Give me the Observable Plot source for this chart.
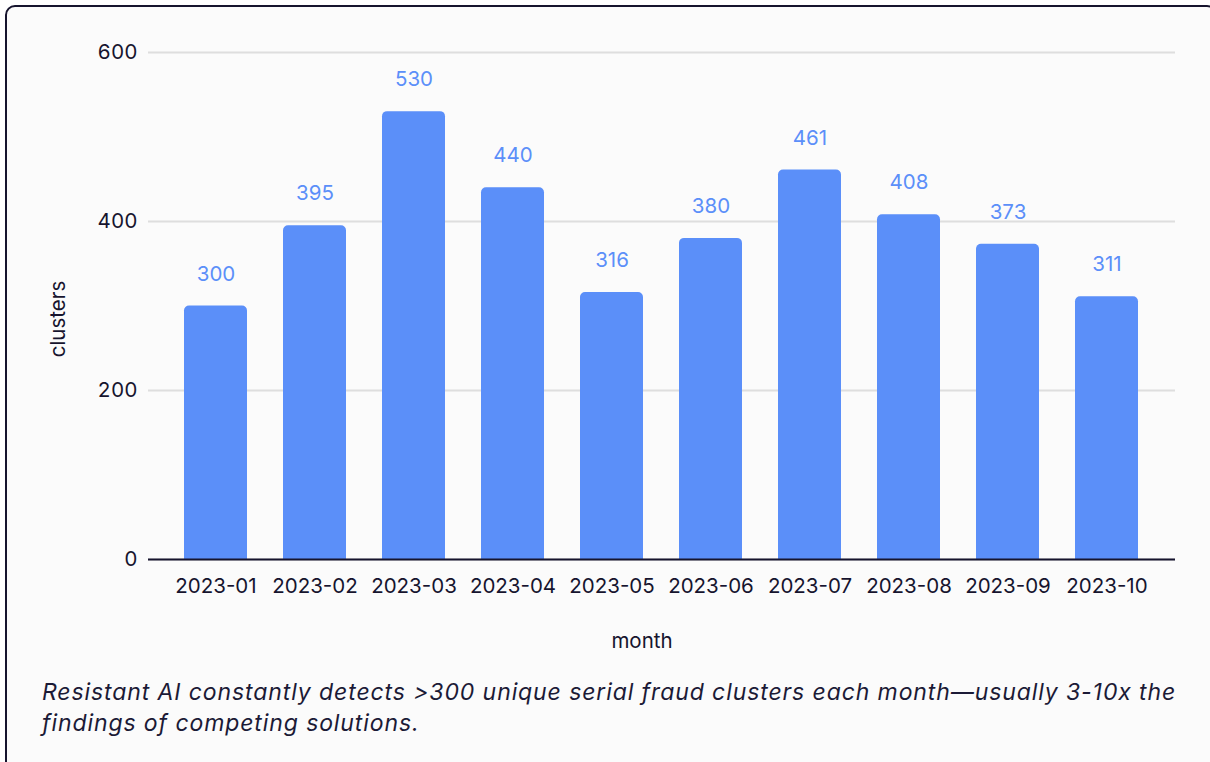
<!DOCTYPE html>
<html>
<head>
<meta charset="utf-8">
<script src="https://cdn.jsdelivr.net/npm/d3@7"></script>
<script src="https://cdn.jsdelivr.net/npm/@observablehq/plot@0.6"></script>
<style>
  html, body { margin: 0; padding: 0; background: #ffffff; }
  body { width: 1210px; height: 762px; overflow: hidden; position: relative; font-family: Inter, "Noto Sans", sans-serif; }
  #card {
    position: absolute; left: 5px; top: 5px; width: 1212px; height: 770px;
    box-sizing: border-box; border: 2px solid #16142e; border-radius: 10px; background: #fbfbfb;
  }
  #chart { position: absolute; left: 0; top: 0; }
  #caption {
    position: absolute; left: 42px; top: 677px; width: 1165px; margin: 0; white-space: nowrap;
    font-family: Inter, "Noto Sans", sans-serif; font-style: italic; font-size: 23px; letter-spacing: 0.9px;
    line-height: 31px; color: #1b1a36;
  }
</style>
</head>
<body>
<div id="card"></div>
<div id="chart"></div>
<p id="caption">Resistant AI constantly detects &gt;300 unique serial fraud clusters each month—usually 3-10x the<br>findings of competing solutions.</p>
<script>
// Monthly count of detected serial fraud clusters
const months = ["2023-01", "2023-02", "2023-03", "2023-04", "2023-05", "2023-06", "2023-07", "2023-08", "2023-09", "2023-10"];
const clusters = [300, 395, 530, 440, 316, 380, 461, 408, 373, 311];
const yTicks = [0, 200, 400, 600];

const rows = months.map((m, i) => ({month: m, clusters: clusters[i]}));
const ink = "#16142e";
const blue = "#5b8ff9";

const chart = Plot.plot({
  width: 1210,
  height: 660,
  marginLeft: 148,
  marginRight: 35,
  marginTop: 52,
  marginBottom: 101,
  style: {fontFamily: "Inter, 'Noto Sans', sans-serif", fontSize: "20px", color: ink, background: "transparent", overflow: "visible"},
  x: {domain: months, padding: 0.36, label: null},
  y: {domain: [0, 600], label: null},
  marks: [
    Plot.gridY(yTicks, {stroke: "#dedede", strokeOpacity: 1, strokeWidth: 2}),
    // bars with rounded top corners only
    Plot.barY(rows, {x: "month", y: "clusters", fill: blue, ry1: 5}),
    Plot.ruleY([0], {stroke: ink, strokeWidth: 2}),
    Plot.text(rows, {x: "month", y: "clusters", text: d => String(d.clusters), dy: -32, fill: blue, fontSize: 20.5}),
    Plot.axisY(yTicks, {tickSize: 0, tickPadding: 11, fontSize: 20.5, fill: ink, label: null}),
    Plot.axisX({tickSize: 0, tickPadding: 19, fontSize: 20.5, fill: ink, label: null}),
    Plot.text(["clusters"], {frameAnchor: "left", textAnchor: "middle", dx: -90, dy: 13, rotate: -90, fontSize: 20.5, fill: ink}),
    Plot.text(["month"], {frameAnchor: "bottom", dx: -20, dy: 88, fontSize: 20.5, fill: ink})
  ]
});
document.getElementById("chart").appendChild(chart);
</script>
</body>
</html>
